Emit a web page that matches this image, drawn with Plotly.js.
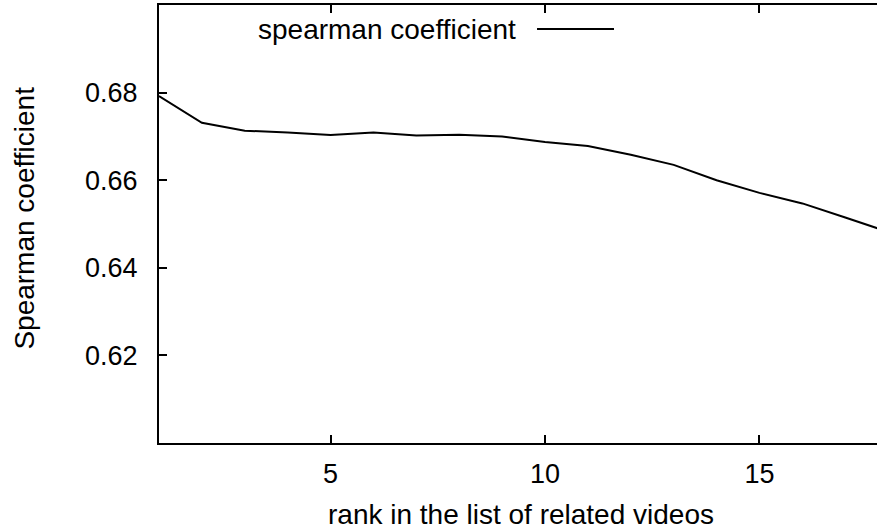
<!DOCTYPE html>
<html>
<head>
<meta charset="utf-8">
<script src="https://cdn.plot.ly/plotly-3.0.1.min.js"></script>
<style>html,body{margin:0;padding:0;background:#fff;}#chart{width:877px;height:529px;}</style>
</head>
<body>
<div id="chart"></div>
<script>
const ranks = [1, 2, 3, 4, 5, 6, 7, 8, 9, 10, 11, 12, 13, 14, 15, 16, 17, 18];
const spearman = [0.6792, 0.6731, 0.6713, 0.6709, 0.6703, 0.6709, 0.6702, 0.6704, 0.6700,
                  0.6687, 0.6678, 0.6658, 0.6635, 0.6600, 0.6571, 0.6547, 0.6515, 0.6482];
const seriesName = 'spearman coefficient';
const xTitle = 'rank in the list of related videos';
const yTitle = 'Spearman coefficient';
const xTicks = [5, 10, 15];
const yTicks = [0.62, 0.64, 0.66, 0.68];

const font = {family: 'Liberation Sans, Arial, sans-serif', size: 27, color: '#000'};
const titleFont = {family: 'Liberation Sans, Arial, sans-serif', size: 28, color: '#000'};

const trace = {
  x: ranks, y: spearman, type: 'scatter', mode: 'lines', name: seriesName,
  line: {color: '#000', width: 2}, showlegend: false
};

const layout = {
  width: 877, height: 529,
  margin: {l: 159, r: 0, t: 5, b: 86},
  paper_bgcolor: '#fff', plot_bgcolor: '#fff',
  font: font,
  showlegend: false,
  xaxis: {
    range: [1, 17.74], tickvals: xTicks, ticktext: xTicks.map(String),
    ticks: 'inside', ticklen: 8, tickwidth: 2, tickcolor: '#000',
    showline: true, linewidth: 2, linecolor: '#000', mirror: 'ticks',
    showgrid: false, zeroline: false, ticklabelstandoff: 6
  },
  yaxis: {
    range: [0.60, 0.70], tickvals: yTicks, ticktext: yTicks.map(v => v.toFixed(2)),
    ticks: 'inside', ticklen: 8, tickwidth: 2, tickcolor: '#000',
    showline: true, linewidth: 2, linecolor: '#000',
    showgrid: false, zeroline: false, ticklabelstandoff: 14
  },
  annotations: [
    {
      xref: 'paper', yref: 'paper', x: 0.5000, y: 0.943,
      xanchor: 'right', yanchor: 'middle', showarrow: false,
      text: seriesName, font: titleFont
    },
    {
      xref: 'paper', yref: 'paper', x: 0.504, y: -0.164,
      xanchor: 'center', yanchor: 'middle', showarrow: false,
      text: xTitle, font: titleFont
    },
    {
      xref: 'paper', yref: 'paper', x: -0.187, y: 0.514,
      xanchor: 'center', yanchor: 'middle', showarrow: false, textangle: -90,
      text: yTitle, font: titleFont
    }
  ],
  shapes: [{
    type: 'line', xref: 'paper', yref: 'paper',
    x0: 0.5265, x1: 0.6337, y0: 0.945, y1: 0.945,
    line: {color: '#000', width: 2}
  }]
};

Plotly.newPlot('chart', [trace], layout, {displayModeBar: false, staticPlot: true});
</script>
</body>
</html>
